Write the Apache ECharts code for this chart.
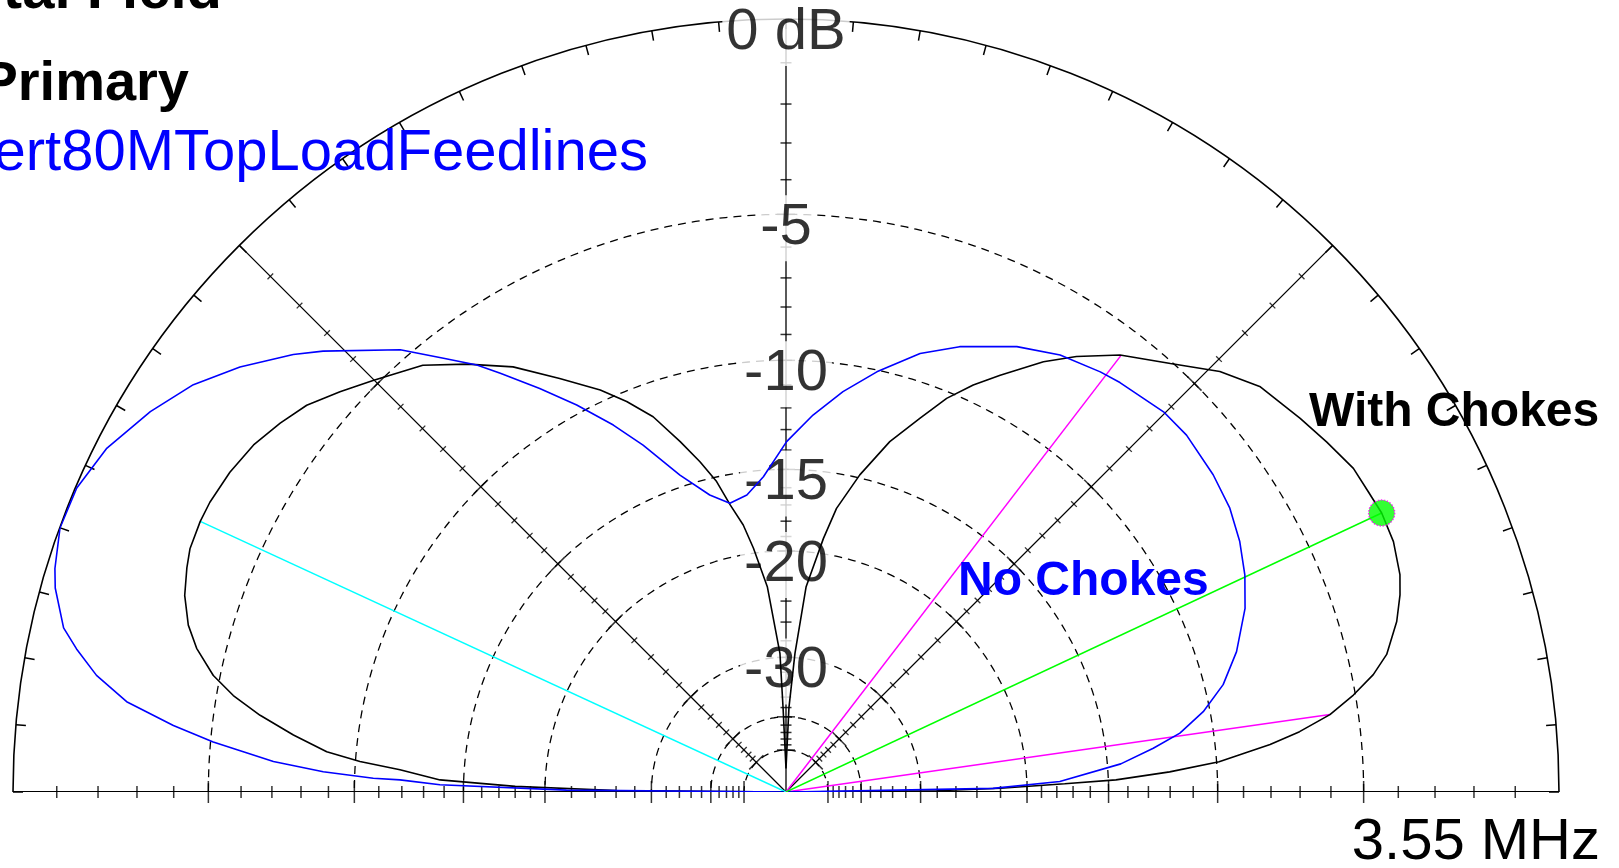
<!DOCTYPE html>
<html lang="en">
<head>
<meta charset="UTF-8">
<title>3.55 MHz elevation pattern - With / No Chokes</title>
<script src="https://cdn.jsdelivr.net/npm/echarts@6.0.0/dist/echarts.min.js"></script>
<style>
  html, body { margin: 0; padding: 0; background: #fff; }
  #chart { width: 1619px; height: 868px; }
</style>
</head>
<body>
<div id="chart"></div>
<script>
// elevation angle (deg) and gain (dB, relative to outer ring)
const chokesAngles = [0, 0.5, 1, 1.7, 2.1, 3.0, 4.0, 5.6, 6.7, 8.1, 9.7, 11.3, 12.9, 15.6, 17.8, 19.5, 22.4, 25.1, 27.3, 29.7,
  32.9, 36.0, 40.5, 44.1, 48.1, 52.6, 56.3, 59.1, 62.8, 65.3, 67.8, 70.3, 73.5, 76.9, 79.9, 81.6, 84.4, 86.3, 88, 90,
  92, 92.5, 95.2, 97.6, 99.1, 101.0, 102.6, 104.6, 106.8, 109.5, 112.2, 114.8, 118.7, 122.7, 126.7, 130.4, 135.1, 138.1,
  141.1, 143.9, 146.9, 150.1, 153.3, 155.2, 157.8, 159.5, 161.9, 164.4, 166.3, 168.5, 170.1, 171.7, 173.4, 175.0,
  175.9, 176.7, 178.0, 178.8, 179.5, 180];
const chokesGain = [-99, -28, -22, -17.5, -14.6, -12.0, -9.9, -7.95, -6.9, -5.86, -5.06, -4.38, -3.89, -3.4, -3.11, -2.94, -2.79, -2.77, -2.84, -2.89,
  -3.13, -3.36, -3.68, -4.23, -5.06, -5.84, -6.69, -7.43, -8.59, -9.36, -10.26, -11.44, -12.86, -14.84, -16.94, -18.94, -22.67, -29.45, -38, -60,
  -38, -29.47, -22.68, -19.66, -18.03, -16.68, -15.24, -14.03, -12.83, -11.39, -10.40, -9.56, -8.49, -7.30, -6.36, -5.52, -4.84, -4.37,
  -3.90, -3.62, -3.36, -3.20, -3.11, -3.10, -3.14, -3.25, -3.44, -3.77, -4.16, -4.80, -5.50, -6.43, -7.62, -8.87,
  -10.18, -11.89, -13.79, -18.0, -26, -99];

const noChokesAngles = [0, 1.0, 2.2, 4.8, 6.8, 8.5, 10.9, 13.8, 17.3, 21.8, 25.3, 28.9, 32.6, 36.6, 41.7, 45.2, 50.8, 53.2,
  57.9, 62.6, 68.7, 73.0, 77.8, 81.9, 85.9, 89.9, 94.1, 97.5, 101.0, 104.4, 108.5, 112.4, 115.2, 118.4, 121.4, 124.3,
  125.9, 128.3, 131.1, 136.4, 138.4, 142.1, 145.5, 149.1, 153.2, 156.8, 160.0, 163.0, 164.4, 167.2, 168.6, 170.4,
  172.2, 173.8, 175.0, 176.6, 177.5, 178.1, 178.2, 178.8, 179.5, 180];
const noChokesGain = [-99, -22.6, -17.8, -14.3, -12.65, -11.38, -10.27, -9.28, -8.47, -7.67, -7.22, -6.86, -6.58, -6.41, -6.27, -6.29, -6.53, -6.65,
  -6.94, -7.42, -8.25, -8.96, -10.07, -11.12, -12.28, -13.58, -15.35, -16.27, -16.58, -15.87, -14.39, -12.41, -11.07, -9.67, -8.44, -7.24,
  -6.57, -5.76, -4.73, -3.26, -2.74, -1.90, -1.24, -0.73, -0.26, -0.03, -0.01, -0.19, -0.32, -0.73, -1.13, -1.72,
  -2.57, -3.89, -5.08, -7.02, -8.79, -10.76, -11.91, -13.79, -21.6, -99];

// grid levels (dB)
const ringLevels = [-5, -10, -15, -20, -30, -40, -50];
const ringLabelLevels = [0, -5, -10, -15, -20, -30];
const ringLabelText = ['0 dB', '-5', '-10', '-15', '-20', '-30'];
const tickLevels = [-1, -2, -3, -4, -6, -7, -8, -9, -11, -12, -13, -14, -16, -17, -18, -19,
  -22, -24, -26, -28, -32, -34, -36, -38, -42, -44, -46, -48];
const spokeAngles = [45, 135];

// cursors: max gain, -3 dB points, back lobe cursor
const maxPoint = [25.1, -2.77];
const halfPowerPoints = [[52.5, -5.84], [8.1, -5.86]];
const backCursor = [155.2, -3.10];

// ARRL log scale: 0.89 per 2 dB
function ringRadius(dB) { return Math.pow(0.89, -dB / 2); }
const toPolar = (angles, gains) => angles.map((a, i) => [ringRadius(gains[i]), a]);

const arcAngles = [];
for (let a = 0; a <= 180; a++) arcAngles.push(a);

const FONT = '"Liberation Sans", Arial, sans-serif';
const series = [];

// dashed rings
ringLevels.forEach(level => {
  series.push({
    type: 'line', coordinateSystem: 'polar', symbol: 'none', silent: true, z: 1,
    lineStyle: { color: '#000', width: 1.3, type: [8, 6] },
    data: arcAngles.map(a => [ringRadius(level), a])
  });
});

// baseline, vertical axis and 45 deg spokes
series.push({
  type: 'line', coordinateSystem: 'polar', symbol: 'none', silent: true, z: 1,
  lineStyle: { color: '#000', width: 2 },
  data: [[1, 180], [0, 0], [1, 0]]
});
[90].concat(spokeAngles).forEach(a => {
  series.push({
    type: 'line', coordinateSystem: 'polar', symbol: 'none', silent: true, z: 1,
    lineStyle: { color: '#000', width: 1.3 },
    data: [[0, a], [1, a]]
  });
});

// tick marks
function ticks(angle, size, rotate, levels) {
  return {
    type: 'scatter', coordinateSystem: 'polar', symbol: 'rect', symbolSize: size, symbolRotate: rotate,
    silent: true, z: 1, itemStyle: { color: '#000' },
    data: levels.map(l => [ringRadius(l), angle])
  };
}
[0, 180].forEach(a => {
  series.push(ticks(a, [1.5, 12], 0, tickLevels));
  series.push(ticks(a, [1.5, 22], 0, ringLevels));
});
series.push(ticks(90, [11, 1.5], 0, tickLevels));
series.push(ticks(90, [18, 1.5], 0, ringLevels));
series.push(ticks(45, [1.3, 8], 45, tickLevels));
series.push(ticks(45, [1.5, 20], 45, ringLevels));
series.push(ticks(135, [1.3, 8], -45, tickLevels));
series.push(ticks(135, [1.5, 20], -45, ringLevels));

// ring labels on the vertical axis
series.push({
  type: 'scatter', coordinateSystem: 'polar', symbolSize: 1, silent: true, z: 3,
  itemStyle: { color: 'rgba(0,0,0,0)' },
  label: {
    show: true, position: 'inside', offset: [0, 14], formatter: '{b}',
    fontFamily: FONT, fontSize: 58, color: '#000', textBorderWidth: 0,
    backgroundColor: '#fff', padding: [0, 4], lineHeight: 66
  },
  data: ringLabelLevels.map((l, i) => ({ name: ringLabelText[i], value: [ringRadius(l), 90] }))
});

// cursor lines
function ray(point, color) {
  return {
    type: 'line', coordinateSystem: 'polar', symbol: 'none', silent: true, z: 4,
    lineStyle: { color: color, width: 1.5 },
    data: [[0, point[0]], [ringRadius(point[1]), point[0]]]
  };
}
series.push(ray(backCursor, '#00ffff'));
halfPowerPoints.forEach(p => series.push(ray(p, '#ff00ff')));
series.push(ray(maxPoint, '#00ff00'));

// patterns
series.push({
  name: 'With Chokes', type: 'line', coordinateSystem: 'polar', symbol: 'none', z: 5,
  lineStyle: { color: '#000', width: 1.6 },
  data: toPolar(chokesAngles, chokesGain)
});
series.push({
  name: 'No Chokes', type: 'line', coordinateSystem: 'polar', symbol: 'none', z: 6,
  lineStyle: { color: '#0000ff', width: 1.6 },
  data: toPolar(noChokesAngles, noChokesGain)
});

// max gain marker
series.push({
  type: 'scatter', coordinateSystem: 'polar', symbol: 'circle', symbolSize: 26, silent: true, z: 7,
  itemStyle: { color: '#00ff00', borderColor: '#ff00ff', borderWidth: 1.5, borderType: 'dotted' },
  data: [[ringRadius(maxPoint[1]), maxPoint[0]]]
});

function txt(text, x, y, size, weight, color, align) {
  return {
    type: 'text', x: x, y: y, z: 10, silent: true,
    style: { text: text, fill: color, font: weight + ' ' + size + 'px ' + FONT, align: align, verticalAlign: 'middle' }
  };
}

const chart = echarts.init(document.getElementById('chart'));
chart.setOption({
  animation: false,
  backgroundColor: '#fff',
  polar: { center: [786, 792], radius: 773 },
  angleAxis: {
    type: 'value', min: 0, max: 180, interval: 5,
    startAngle: 0, endAngle: 180, clockwise: false,
    axisLine: { lineStyle: { color: '#000', width: 1.6 } },
    axisTick: { inside: true, length: 10, lineStyle: { color: '#000', width: 1.5 } },
    axisLabel: { show: false },
    splitLine: { show: false }
  },
  radiusAxis: {
    type: 'value', min: 0, max: 1,
    axisLine: { show: false }, axisTick: { show: false },
    axisLabel: { show: false }, splitLine: { show: false }
  },
  graphic: [
    txt('Total Field', 222, -8, 58, 'bold', '#000', 'right'),
    txt('Primary', 189, 85, 56, 'bold', '#000', 'right'),
    txt('Vert80MTopLoadFeedlines', 648, 154, 58, 'normal', '#0000ff', 'right'),
    txt('3.55 MHz', 1600, 843, 58, 'normal', '#000', 'right'),
    txt('With Chokes', 1309, 413, 48, 'bold', '#000', 'left'),
    txt('No Chokes', 958, 582, 48, 'bold', '#0000ff', 'left')
  ],
  series: series
});
</script>
</body>
</html>
